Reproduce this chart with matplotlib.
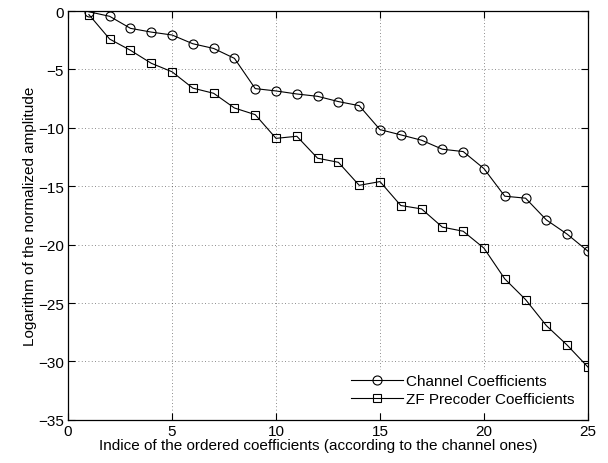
import numpy as np
import matplotlib.pyplot as plt

plt.rcParams['font.family'] = ['Liberation Sans', 'DejaVu Sans']

# indices of the ordered coefficients
idx = list(range(1, 26))

# channel coefficients (log normalized amplitude)
channel = [-0.06, -0.45, -1.48, -1.8, -2.05, -2.8, -3.2, -4.05, -6.64, -6.84,
           -7.1, -7.3, -7.75, -8.1, -10.15, -10.6, -11.06, -11.83, -12.03, -13.49,
           -15.85, -16.02, -17.88, -19.1, -20.56]

# ZF precoder coefficients
zf = [-0.3, -2.4, -3.36, -4.47, -5.2, -6.6, -7.04, -8.3, -8.87, -10.9,
      -10.72, -12.6, -12.95, -14.92, -14.6, -16.65, -16.94, -18.5, -18.85, -20.3,
      -22.93, -24.7, -26.93, -28.6, -30.48]

fig = plt.figure(figsize=(6.08, 4.64), dpi=100)
ax = fig.add_axes([0.112, 0.093, 0.855, 0.881])

ax.plot(idx, channel, 'k-o', lw=0.8, ms=6.5, mfc='none', mew=0.8, label='Channel Coefficients')
ax.plot(idx, zf, 'k-s', lw=0.8, ms=5.5, mfc='none', mew=0.8, label='ZF Precoder Coefficients')

ax.set_xlim(0, 25)
ax.set_ylim(-35, 0)
ax.set_xticks(np.arange(0, 26, 5))
ax.set_yticks(np.arange(-35, 1, 5))
ax.set_yticklabels(['\u221235', '\u221230', '\u221225', '\u221220', '\u221215', '\u221210', '\u22125', '0'])
ax.grid(True, linestyle=(0, (1, 3)), color='k', lw=0.6, alpha=0.6)
ax.tick_params(direction='in', top=True, right=True, labelsize=11, length=5, pad=3)
for s in ax.spines.values():
    s.set_linewidth(0.9)

ax.set_xlabel('Indice of the ordered coefficients (according to the channel ones)', fontsize=11, labelpad=0)
ax.xaxis.set_label_coords(0.482, -0.045)
ax.set_ylabel('Logarithm of the normalized amplitude', fontsize=11, labelpad=1)

leg = ax.legend(loc='lower right', fontsize=11, fancybox=False, framealpha=1,
                edgecolor='none', facecolor='white', handlelength=3.4,
                handletextpad=0.15, labelspacing=0.25, borderaxespad=0.6,
                borderpad=0.3)

fig.savefig('out.png', dpi=100)
